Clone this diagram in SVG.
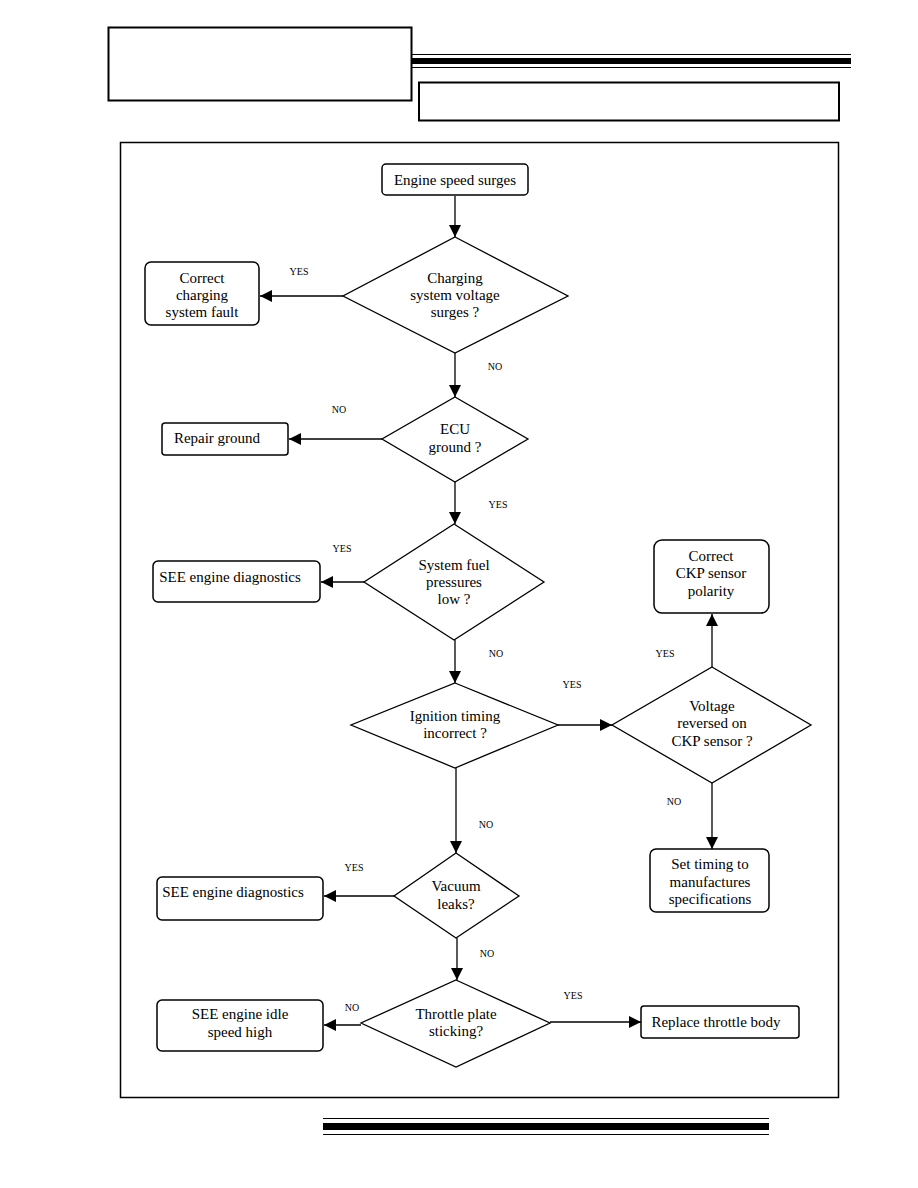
<svg xmlns="http://www.w3.org/2000/svg" width="918" height="1188" viewBox="0 0 918 1188">
<style>
.box{fill:#fff;stroke:#000;stroke-width:1.5}
.dia{fill:#fff;stroke:#000;stroke-width:1.3}
.t{font-family:"Liberation Serif",serif;font-size:15px;text-anchor:middle;fill:#000}
.l{font-family:"Liberation Serif",serif;font-size:10px;text-anchor:middle;fill:#000}
.c{stroke:#000;stroke-width:1.3;fill:none;marker-end:url(#ah)}
</style>
<defs>
<marker id="ah" viewBox="0 0 10 10" refX="10" refY="5" markerWidth="12" markerHeight="12" markerUnits="userSpaceOnUse" orient="auto">
<path d="M0,0 L10,5 L0,10 z" fill="#000"/>
</marker>
</defs>
<rect width="918" height="1188" fill="#fff"/>
<g id="header">
<rect x="108.5" y="27.5" width="303" height="73" fill="none" stroke="#000" stroke-width="2"/>
<line x1="411" y1="54.5" x2="851" y2="54.5" stroke="#000" stroke-width="1"/>
<rect x="411" y="58" width="440" height="6" fill="#000"/>
<line x1="411" y1="67.5" x2="851" y2="67.5" stroke="#000" stroke-width="1"/>
<rect x="419" y="82.5" width="420" height="38" fill="none" stroke="#000" stroke-width="2"/>
</g>
<g id="footer">
<line x1="323" y1="1118.5" x2="769" y2="1118.5" stroke="#000" stroke-width="1.2"/>
<rect x="323" y="1123" width="446" height="7" fill="#000"/>
<line x1="323" y1="1134.5" x2="769" y2="1134.5" stroke="#000" stroke-width="1.2"/>
</g>
<rect id="frame" x="120.5" y="142.5" width="718" height="955" fill="none" stroke="#000" stroke-width="1.5"/>
<g id="connectors">
<line class="c" x1="455" y1="196" x2="455" y2="237"/>
<line class="c" x1="343" y1="296" x2="260" y2="296"/>
<line class="c" x1="455" y1="353" x2="455" y2="397"/>
<line class="c" x1="382" y1="439" x2="289" y2="439"/>
<line class="c" x1="455" y1="482" x2="455" y2="524"/>
<line class="c" x1="364" y1="582" x2="321" y2="582"/>
<line class="c" x1="455" y1="640" x2="455" y2="683"/>
<line class="c" x1="558" y1="725" x2="612" y2="725"/>
<line class="c" x1="712" y1="667" x2="712" y2="614"/>
<line class="c" x1="712" y1="783" x2="712" y2="849"/>
<line class="c" x1="456" y1="768" x2="456" y2="853"/>
<line class="c" x1="394" y1="896" x2="324" y2="896"/>
<line class="c" x1="457" y1="938" x2="457" y2="980"/>
<line class="c" x1="361" y1="1025" x2="324" y2="1025"/>
<line class="c" x1="550" y1="1022" x2="641" y2="1022"/>
</g>
<g id="n-start">
<rect class="box" x="382" y="164" width="146" height="31" rx="4"/>
<text class="t" x="455" y="185">Engine speed surges</text>
</g>
<g id="d-charging">
<polygon class="dia" points="455,237 568,296 455,353 343,296"/>
<text class="t" x="455" y="283">Charging</text>
<text class="t" x="455" y="300">system voltage</text>
<text class="t" x="455" y="317">surges ?</text>
</g>
<g id="n-correct-charging">
<rect class="box" x="145" y="262" width="114" height="63" rx="6"/>
<text class="t" x="202" y="283">Correct</text>
<text class="t" x="202" y="300">charging</text>
<text class="t" x="202" y="317">system fault</text>
</g>
<g id="d-ecu">
<polygon class="dia" points="455,397 528,439 455,482 382,439"/>
<text class="t" x="455" y="434">ECU</text>
<text class="t" x="455" y="452">ground ?</text>
</g>
<g id="n-repair-ground">
<rect class="box" x="162" y="423" width="126" height="32" rx="3"/>
<text class="t" x="217" y="443">Repair ground</text>
</g>
<g id="d-fuel">
<polygon class="dia" points="454,524 544,582 454,640 364,582"/>
<text class="t" x="454" y="570">System fuel</text>
<text class="t" x="454" y="587">pressures</text>
<text class="t" x="454" y="604">low ?</text>
</g>
<g id="n-see-diag-1">
<rect class="box" x="153" y="561" width="167" height="41" rx="5"/>
<text class="t" x="230" y="582">SEE engine diagnostics</text>
</g>
<g id="d-ignition">
<polygon class="dia" points="455,683 558,725 455,768 351,725"/>
<text class="t" x="455" y="721">Ignition timing</text>
<text class="t" x="455" y="738">incorrect ?</text>
</g>
<g id="d-voltage">
<polygon class="dia" points="712,667 811,725 712,783 612,725"/>
<text class="t" x="712" y="711">Voltage</text>
<text class="t" x="712" y="728">reversed on</text>
<text class="t" x="712" y="746">CKP sensor ?</text>
</g>
<g id="n-correct-ckp">
<rect class="box" x="654" y="540" width="115" height="73" rx="8"/>
<text class="t" x="711" y="561">Correct</text>
<text class="t" x="711" y="578">CKP sensor</text>
<text class="t" x="711" y="596">polarity</text>
</g>
<g id="n-set-timing">
<rect class="box" x="650" y="849" width="119" height="63" rx="6"/>
<text class="t" x="710" y="869">Set timing to</text>
<text class="t" x="710" y="887">manufactures</text>
<text class="t" x="710" y="904">specifications</text>
</g>
<g id="d-vacuum">
<polygon class="dia" points="456,853 519,896 456,938 394,896"/>
<text class="t" x="456" y="891">Vacuum</text>
<text class="t" x="456" y="909">leaks?</text>
</g>
<g id="n-see-diag-2">
<rect class="box" x="157" y="877" width="166" height="43" rx="5"/>
<text class="t" x="233" y="897">SEE engine diagnostics</text>
</g>
<g id="d-throttle">
<polygon class="dia" points="456,980 550,1023 456,1067 361,1023"/>
<text class="t" x="456" y="1019">Throttle plate</text>
<text class="t" x="456" y="1036">sticking?</text>
</g>
<g id="n-idle">
<rect class="box" x="157" y="1000" width="166" height="51" rx="5"/>
<text class="t" x="240" y="1019">SEE engine idle</text>
<text class="t" x="240" y="1037">speed high</text>
</g>
<g id="n-replace">
<rect class="box" x="641" y="1006" width="158" height="32" rx="3"/>
<text class="t" x="716" y="1027">Replace throttle body</text>
</g>
<g id="labels">
<text class="l" x="299" y="275">YES</text>
<text class="l" x="495" y="370">NO</text>
<text class="l" x="339" y="413">NO</text>
<text class="l" x="498" y="508">YES</text>
<text class="l" x="342" y="552">YES</text>
<text class="l" x="496" y="657">NO</text>
<text class="l" x="572" y="688">YES</text>
<text class="l" x="665" y="657">YES</text>
<text class="l" x="674" y="805">NO</text>
<text class="l" x="486" y="828">NO</text>
<text class="l" x="354" y="871">YES</text>
<text class="l" x="487" y="957">NO</text>
<text class="l" x="352" y="1011">NO</text>
<text class="l" x="573" y="999">YES</text>
</g>
</svg>
